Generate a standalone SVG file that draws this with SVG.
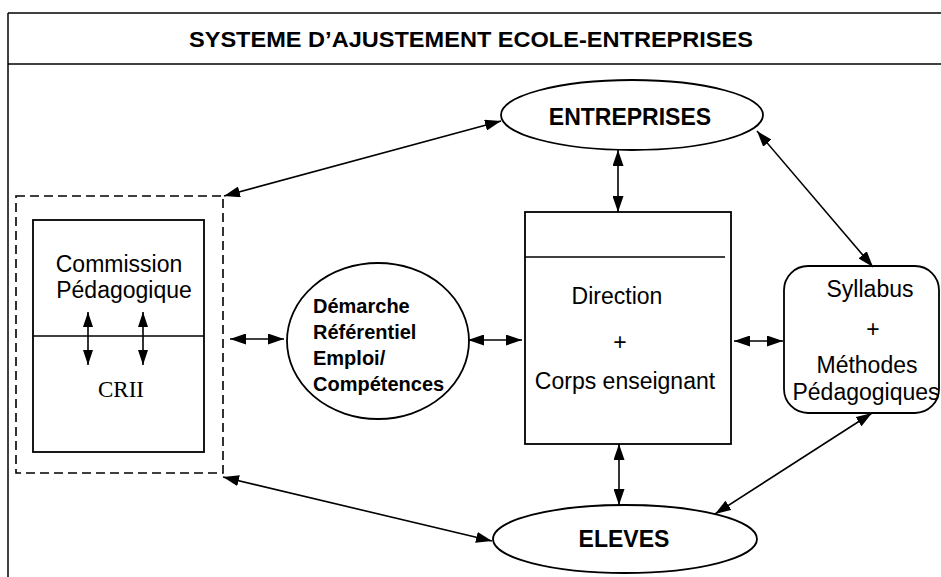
<svg xmlns="http://www.w3.org/2000/svg" width="941" height="577" viewBox="0 0 941 577">
<defs>
<marker id="ah" viewBox="0 0 16 11" markerUnits="userSpaceOnUse" markerWidth="16" markerHeight="11" refX="16" refY="5.5" orient="auto-start-reverse"><path d="M0,0 L16,5.5 L0,11 z" fill="#000"/></marker>
<marker id="ahs" viewBox="0 0 15 10" markerUnits="userSpaceOnUse" markerWidth="15" markerHeight="10" refX="15" refY="5" orient="auto-start-reverse"><path d="M0,0 L15,5 L0,10 z" fill="#000"/></marker>
<style>
.ln{stroke:#000;stroke-width:1.5;fill:none}
.box{stroke:#000;stroke-width:1.8;fill:#fff}
.con{stroke:#000;stroke-width:1.6;fill:none;marker-start:url(#ah);marker-end:url(#ah)}
.ci{stroke:#000;stroke-width:1.6;fill:none;marker-start:url(#ahs);marker-end:url(#ahs)}
.t{font-family:"Liberation Sans",Arial,sans-serif;font-size:23px;fill:#000;text-anchor:middle}
.b{font-family:"Liberation Sans",Arial,sans-serif;font-weight:bold;fill:#000}
.tm{font-family:"Liberation Serif","Times New Roman",serif;font-size:23px;fill:#000;text-anchor:middle}
</style>
</defs>
<rect width="941" height="577" fill="#fff"/>
<g id="frame">
<line class="ln" x1="8" y1="13" x2="941" y2="13"/>
<line class="ln" x1="8" y1="64" x2="941" y2="64"/>
<line class="ln" x1="8" y1="13" x2="8" y2="577"/>
<text class="b" x="471" y="47" font-size="22" text-anchor="middle" textLength="564" lengthAdjust="spacingAndGlyphs">SYSTEME D’AJUSTEMENT ECOLE-ENTREPRISES</text>
</g>
<g id="group-left">
<rect x="16" y="196" width="207" height="277" fill="none" stroke="#000" stroke-width="1.6" stroke-dasharray="9,5"/>
</g>
<g id="commission">
<rect class="box" x="33" y="220" width="171" height="232"/>
<line class="ln" x1="33" y1="336" x2="204" y2="336"/>
<text class="t" x="119" y="272">Commission</text>
<text class="t" x="124" y="298">Pédagogique</text>
</g>
<g id="crii">
<text class="tm" x="121" y="397">CRII</text>
</g>
<g id="demarche">
<ellipse class="box" cx="378" cy="341" rx="91" ry="78"/>
<text class="b" font-size="20" x="313" y="313">Démarche</text>
<text class="b" font-size="20" x="313" y="339">Référentiel</text>
<text class="b" font-size="20" x="313" y="365">Emploi/</text>
<text class="b" font-size="20" x="313" y="391">Compétences</text>
</g>
<g id="entreprises">
<ellipse class="box" cx="632" cy="115" rx="131" ry="35"/>
<text class="b" font-size="23" x="630" y="125" text-anchor="middle">ENTREPRISES</text>
</g>
<g id="direction">
<rect class="box" x="525" y="212" width="206" height="232"/>
<line class="ln" x1="525" y1="257" x2="725" y2="257"/>
<text class="t" x="617" y="304">Direction</text>
<text class="t" x="620" y="350">+</text>
<text class="t" x="625" y="389" font-size="22">Corps enseignant</text>
</g>
<g id="syllabus">
<rect class="box" x="784" y="266" width="155" height="147" rx="24" ry="24"/>
<text class="t" x="870" y="297">Syllabus</text>
<text class="t" x="873" y="337" font-size="20">+</text>
<text class="t" x="867" y="373">Méthodes</text>
<text class="t" x="866" y="400">Pédagogiques</text>
</g>
<g id="eleves">
<ellipse class="box" cx="625" cy="539" rx="132" ry="34"/>
<text class="b" font-size="23" x="624" y="547" text-anchor="middle">ELEVES</text>
</g>
<g id="connectors">
<line class="con" x1="224" y1="196" x2="501" y2="121"/>
<line class="con" x1="618" y1="150" x2="618" y2="212"/>
<line class="con" x1="757" y1="131" x2="873" y2="267"/>
<line class="con" x1="230" y1="339" x2="284" y2="339"/>
<line class="con" x1="468" y1="340" x2="522" y2="340"/>
<line class="con" x1="734" y1="341" x2="783" y2="341"/>
<line class="con" x1="619" y1="444" x2="619" y2="505"/>
<line class="con" x1="872" y1="413" x2="715" y2="514"/>
<line class="con" x1="223" y1="477" x2="492" y2="541"/>
<line class="ci" x1="88" y1="312" x2="88" y2="365"/>
<line class="ci" x1="143" y1="312" x2="143" y2="365"/>
</g>
</svg>
